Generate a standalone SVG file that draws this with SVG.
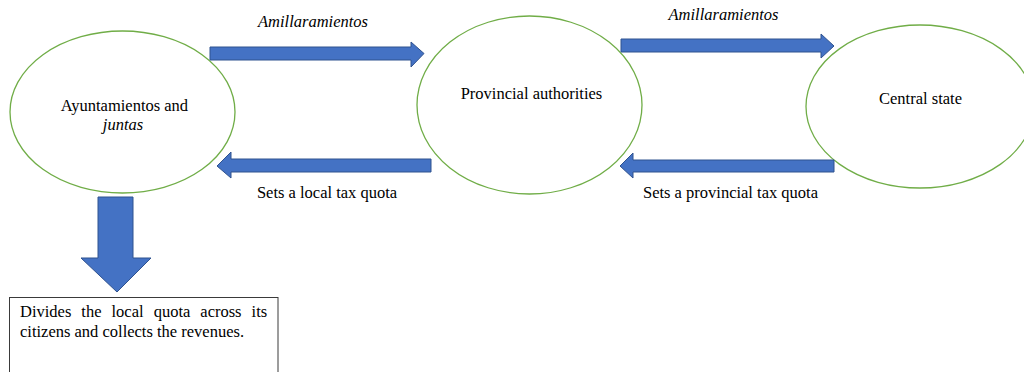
<svg xmlns="http://www.w3.org/2000/svg" width="1024" height="372" viewBox="0 0 1024 372">
<style>
.node{fill:#fff;stroke:#70AD47;stroke-width:1.3}
.arr{fill:#4472C4;stroke:#2F528F;stroke-width:1}
.t{font-family:"Liberation Serif","Times New Roman",serif;font-size:16.5px;fill:#000}
.i{font-style:italic}
.box{fill:#fff;stroke:#3a3a3a;stroke-width:1}
</style>
<rect width="1024" height="372" fill="#fff"/>
<g id="ayuntamientos">
<ellipse class="node" cx="122.5" cy="112" rx="112.5" ry="81"/>
<text class="t" x="124.5" y="111" text-anchor="middle">Ayuntamientos and</text>
<text class="t i" x="123" y="130" text-anchor="middle">juntas</text>
</g>
<g id="provincial">
<ellipse class="node" cx="529.5" cy="105" rx="112.5" ry="89"/>
<text class="t" x="531.5" y="99" text-anchor="middle">Provincial authorities</text>
</g>
<g id="central">
<ellipse class="node" cx="920" cy="106.5" rx="114" ry="81.5"/>
<text class="t" x="920.5" y="104" text-anchor="middle">Central state</text>
</g>
<g id="citizens-box">
<rect class="box" x="9.5" y="297.5" width="268.5" height="90"/>
<text class="t" x="20" y="317" word-spacing="5.9">Divides the local quota across its</text>
<text class="t" x="20" y="337">citizens and collects the revenues.</text>
</g>
<g id="connectors">
<polygon class="arr" points="210,47 411,47 411,42 424,53.5 411,67 411,60 210,60"/>
<polygon class="arr" points="621,39 821,39 821,34 834,46 821,58 821,52 621,52"/>
<polygon class="arr" points="431,159 231,159 231,152 217,166 231,178 231,172 431,172"/>
<polygon class="arr" points="834,160 633,160 633,153 620,166 633,178 633,172 834,172"/>
<polygon class="arr" points="98,197 133,197 133,258 151,258 117,292 81,258 98,258"/>
<text class="t i" x="313" y="27" text-anchor="middle">Amillaramientos</text>
<text class="t i" x="723.5" y="20" text-anchor="middle">Amillaramientos</text>
<text class="t" x="327" y="198" text-anchor="middle">Sets a local tax quota</text>
<text class="t" x="730.5" y="198" text-anchor="middle">Sets a provincial tax quota</text>
</g>
</svg>
